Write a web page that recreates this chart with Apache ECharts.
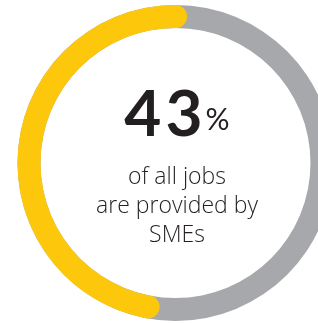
<!DOCTYPE html>
<html>
<head>
<meta charset="utf-8">
<script src="https://cdn.jsdelivr.net/npm/echarts@6/dist/echarts.min.js"></script>
<style>
  html, body { margin: 0; padding: 0; background: #fff; }
  #main { width: 318px; height: 323px; }
</style>
</head>
<body>
<div id="main"></div>
<script>
var categories = ['SMEs'];
var shareValues = [47];   // yellow arc as drawn
var totalValues = [100];  // grey full ring
var headline = '43';
var captionLines = ['of all jobs', 'are provided by', 'SMEs'];

var myChart = echarts.init(document.getElementById('main'));

// split the big number into single digits so they can be spaced apart
var bigText = headline.split('').map(function (d) { return '{big|' + d + '}'; }).join('');

var option = {
  backgroundColor: '#fff',
  animation: false,
  polar: {
    center: [175.5, 163],
    radius: [135, 158]
  },
  angleAxis: {
    max: 100,
    startAngle: 90,
    clockwise: false,
    show: false
  },
  radiusAxis: {
    type: 'category',
    data: categories,
    show: false
  },
  series: [
    {
      type: 'bar',
      coordinateSystem: 'polar',
      data: totalValues,
      barCategoryGap: '0%',
      itemStyle: { color: '#a7a8ab' },
      silent: true
    },
    {
      type: 'bar',
      coordinateSystem: 'polar',
      data: shareValues,
      barGap: '-100%',
      barCategoryGap: '0%',
      roundCap: true,
      itemStyle: { color: '#fdc80c' },
      silent: true
    }
  ],
  graphic: [
    {
      type: 'text',
      x: 176,
      y: 115,
      style: {
        text: bigText + '{pct|%}',
        align: 'center',
        verticalAlign: 'middle',
        rich: {
          big: { fontFamily: 'Lato', fontWeight: 'bold', fontSize: 64, fill: '#231f20', padding: [0, 2, 0, 2] },
          pct: { fontFamily: 'Lato', fontWeight: 'normal', fontSize: 30, fill: '#231f20', padding: [10, 0, 0, 1] }
        }
      }
    },
    {
      type: 'text',
      x: 177,
      y: 206,
      style: {
        text: captionLines.join('\n'),
        align: 'center',
        verticalAlign: 'middle',
        fontFamily: 'Open Sans',
        fontWeight: 300,
        fontSize: 23,
        lineHeight: 29,
        fill: '#231f20'
      }
    }
  ]
};

myChart.setOption(option);
</script>
</body>
</html>
